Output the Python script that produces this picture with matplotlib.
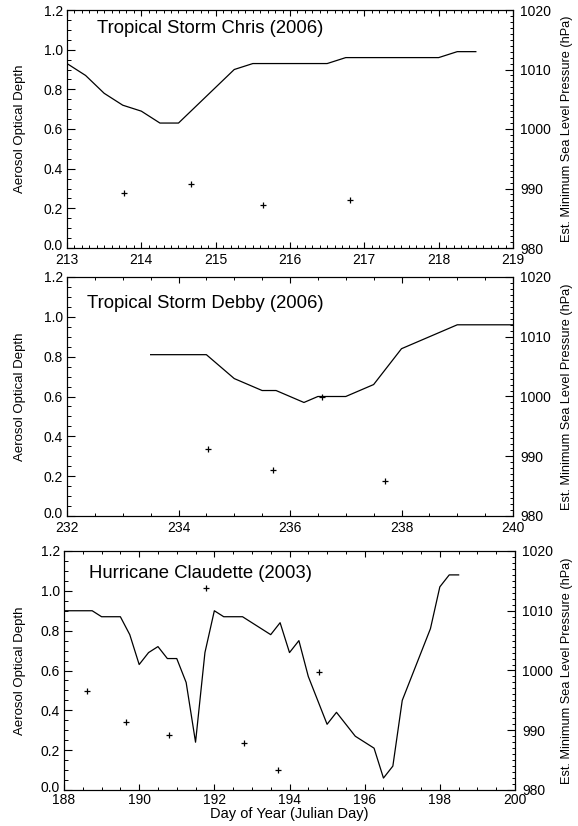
import matplotlib
matplotlib.use('Agg')
import numpy as np
import matplotlib.pyplot as plt
import matplotlib.transforms as mtransforms
from matplotlib.ticker import MultipleLocator, FormatStrFormatter

plt.rcParams['font.family'] = ['Liberation Sans', 'DejaVu Sans']

# Tropical Storm Chris (2006)
chris_p_day = [213.0, 213.25, 213.5, 213.75, 214.0, 214.25, 214.5, 215.25, 215.5, 216.5, 216.75, 218.0, 218.25, 218.5]
chris_p = [1011, 1009, 1006, 1004, 1003, 1001, 1001, 1010, 1011, 1011, 1012, 1012, 1013, 1013]
chris_aod_day = [213.77, 214.67, 215.64, 216.81]
chris_aod = [0.276, 0.321, 0.217, 0.24]

# Tropical Storm Debby (2006)
debby_p_day = [233.5, 234.5, 235.0, 235.5, 235.75, 236.0, 236.25, 236.5, 237.0, 237.5, 238.0, 239.0, 240.0]
debby_p = [1007, 1007, 1003, 1001, 1001, 1000, 999, 1000, 1000, 1002, 1008, 1012, 1012]
debby_aod_day = [234.53, 235.7, 236.58, 237.7]
debby_aod = [0.336, 0.23, 0.598, 0.176]

# Hurricane Claudette (2003)
claud_p_day = [188.0, 188.75, 189.0, 189.5, 189.75, 190.0, 190.25, 190.5, 190.75, 191.0,
               191.25, 191.5, 191.75, 192.0, 192.25, 192.75, 193.5, 193.75, 194.0, 194.25,
               194.5, 195.0, 195.25, 195.75, 196.25, 196.5, 196.75, 197.0, 197.75, 198.0,
               198.25, 198.5]
claud_p = [1010, 1010, 1009, 1009, 1006, 1001, 1003, 1004, 1002, 1002,
           998, 988, 1003, 1010, 1009, 1009, 1006, 1008, 1003, 1005,
           999, 991, 993, 989, 987, 982, 984, 995, 1007, 1014,
           1016, 1016]
claud_aod_day = [188.62, 189.64, 190.79, 191.77, 192.79, 193.69, 194.79]
claud_aod = [0.498, 0.343, 0.275, 1.013, 0.235, 0.099, 0.594]

W, H = 578, 826
fig = plt.figure(figsize=(W / 100, H / 100), dpi=100)

panels = [
    # (pixel box: left, top, right, bottom), xlim, major, minor, title, title pos
    ((67, 10, 513, 248), (213, 219), 1, 0.1, 'Tropical Storm Chris (2006)', (0.067, 0.924),
     chris_p_day, chris_p, chris_aod_day, chris_aod),
    ((67, 277, 513, 516), (232, 240), 2, 0.5, 'Tropical Storm Debby (2006)', (0.045, 0.889),
     debby_p_day, debby_p, debby_aod_day, debby_aod),
    ((64, 551, 515, 790), (188, 200), 2, 0.5, 'Hurricane Claudette (2003)', (0.056, 0.907),
     claud_p_day, claud_p, claud_aod_day, claud_aod),
]

for i, (box, xlim, maj, mnr, title, tpos, pday, pres, aday, aod) in enumerate(panels):
    l, t, r, b = box
    ax = fig.add_axes([l / W, 1 - b / H, (r - l) / W, (b - t) / H])
    ax2 = ax.twinx()

    ax.plot(aday, aod, '+', color='black', ms=5, mew=0.9)
    ax2.plot(pday, pres, '-', color='black', lw=0.9)

    ax.set_xlim(*xlim)
    ax.set_ylim(0, 1.2)
    ax2.set_ylim(980, 1020)

    ax.xaxis.set_major_locator(MultipleLocator(maj))
    ax.xaxis.set_minor_locator(MultipleLocator(mnr))
    ax.yaxis.set_major_locator(MultipleLocator(0.2))
    ax.yaxis.set_minor_locator(MultipleLocator(0.05))
    ax.yaxis.set_major_formatter(FormatStrFormatter('%.1f'))
    ax2.yaxis.set_major_locator(MultipleLocator(10))
    ax2.yaxis.set_minor_locator(MultipleLocator(1))

    ax.tick_params(axis='x', which='both', direction='in', top=True, bottom=True,
                   labelsize=10, pad=2 if i == 2 else 3.5)
    ax.tick_params(axis='x', which='major', length=4, width=0.8)
    ax.tick_params(axis='x', which='minor', length=2, width=0.7)
    ax.tick_params(axis='y', which='both', direction='in', left=True, right=False,
                   labelsize=10, pad=3)
    ax.tick_params(axis='y', which='major', length=5.5, width=0.8)
    ax.tick_params(axis='y', which='minor', length=3, width=0.7)
    ax2.tick_params(axis='y', which='both', direction='in', labelsize=10, pad=5)
    ax2.tick_params(axis='y', which='major', length=5.5, width=0.8)
    ax2.tick_params(axis='y', which='minor', length=2.5, width=0.7)

    # nudge the "0.0" label up a little, as in the original
    locs = ax.yaxis.get_majorticklocs()
    k = int(np.argmin(np.abs(np.asarray(locs))))
    lab0 = ax.yaxis.get_major_ticks(len(locs))[k].label1
    lab0.set_transform(lab0.get_transform() +
                       mtransforms.ScaledTranslation(0, 3 / 100, fig.dpi_scale_trans))

    for a in (ax, ax2):
        for s in a.spines.values():
            s.set_linewidth(0.8)

    ax.set_ylabel('Aerosol Optical Depth', fontsize=9.5, va='center')
    ax.yaxis.set_label_coords(-(l - 20) / (r - l), 0.5)
    ax2.set_ylabel('Est. Minimum Sea Level Pressure (hPa)', fontsize=9.2,
                   rotation=90, va='center')
    ax2.yaxis.set_label_coords((567 - l) / (r - l), 0.5)
    ax.text(tpos[0], tpos[1], title, transform=ax.transAxes, fontsize=13.3,
            ha='left', va='center')

    if i == 2:
        ax.set_xlabel('Day of Year (Julian Day)', fontsize=10.5, va='center')
        ax.xaxis.set_label_coords(0.5, -(814 - b) / (b - t))

fig.savefig('out.png', dpi=100)
